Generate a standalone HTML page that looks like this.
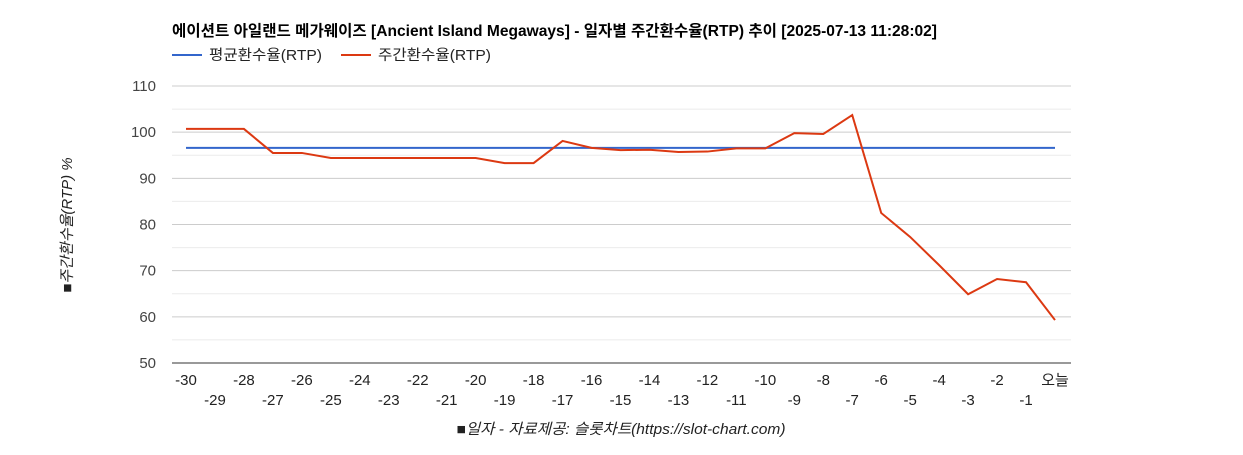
<!DOCTYPE html>
<html><head><meta charset="utf-8">
<style>
body{margin:0;background:#fff;font-family:"Liberation Sans","Noto Sans CJK KR",sans-serif;}
svg text{font-family:"Liberation Sans","Noto Sans CJK KR",sans-serif;}
</style></head>
<body>
<svg width="1243" height="450" xmlns="http://www.w3.org/2000/svg">
<text x="172" y="36" font-size="15.5" font-weight="bold" fill="#000" textLength="765" lengthAdjust="spacingAndGlyphs">에이션트 아일랜드 메가웨이즈 [Ancient Island Megaways] - 일자별 주간환수율(RTP) 추이 [2025-07-13 11:28:02]</text>
<g>
<line x1="172" y1="55" x2="202" y2="55" stroke="#3366cc" stroke-width="2"/>
<text x="209" y="60" font-size="14.5" fill="#222" textLength="113" lengthAdjust="spacingAndGlyphs">평균환수율(RTP)</text>
<line x1="341" y1="55" x2="371" y2="55" stroke="#dc3912" stroke-width="2"/>
<text x="378" y="60" font-size="14.5" fill="#222" textLength="113" lengthAdjust="spacingAndGlyphs">주간환수율(RTP)</text>
</g>
<g id="grid"></g>
<g id="xlabels"></g>
<g id="series"></g>
<text transform="translate(72,225) rotate(-90)" text-anchor="middle" font-size="15" font-style="italic" fill="#222">■주간환수율(RTP) %</text>
<text x="621" y="434" text-anchor="middle" font-size="15" font-style="italic" fill="#222" textLength="329" lengthAdjust="spacingAndGlyphs">■일자 - 자료제공: 슬롯차트(https://slot-chart.com)</text>
</svg>
<script>
const categories=["-30","-29","-28","-27","-26","-25","-24","-23","-22","-21","-20","-19","-18","-17","-16","-15","-14","-13","-12","-11","-10","-9","-8","-7","-6","-5","-4","-3","-2","-1","오늘"];
const weeklyRtp=[100.7,100.7,100.7,95.5,95.5,94.4,94.4,94.4,94.4,94.4,94.4,93.3,93.3,98.1,96.6,96.1,96.2,95.7,95.8,96.5,96.5,99.8,99.6,103.7,82.5,77.3,71.2,64.9,68.2,67.5,59.3];
const avgRtp=96.6;
const yTicks=[50,60,70,80,90,100,110];
const NS="http://www.w3.org/2000/svg";
const plotLeft=172,plotRight=1071,plotTop=86,plotBottom=363,yMin=50,yMax=110;
const xStart=186,xEnd=1055;
function xs(i){return xStart+(xEnd-xStart)*i/(categories.length-1);}
function ys(v){return plotBottom-(v-yMin)/(yMax-yMin)*(plotBottom-plotTop);}
function mk(tag,attrs,parent){const e=document.createElementNS(NS,tag);for(const k in attrs)e.setAttribute(k,attrs[k]);parent.appendChild(e);return e;}
const grid=document.getElementById('grid');
for(let v=yMin;v<=yMax;v+=5){
 const major=yTicks.includes(v);
 const l=mk('line',{x1:plotLeft,x2:plotRight,y1:ys(v),y2:ys(v),stroke:major?(v===yMin?'#333':'#ccc'):'#ebebeb','stroke-width':1},grid);
 
 
}
yTicks.forEach(v=>{
 const t=mk('text',{x:156,y:ys(v)+5,'text-anchor':'end','font-size':15,fill:'#444'},grid);
 t.textContent=v;
 
 
});
const xl=document.getElementById('xlabels');
categories.forEach((c,i)=>{
 const t=mk('text',{x:xs(i),y:i%2===0?385:405,'text-anchor':'middle','font-size':15,fill:'#222'},xl);
 t.textContent=c;
 
 
});
const s=document.getElementById('series');
const avg=mk('line',{x1:xs(0),x2:xs(categories.length-1),y1:ys(avgRtp),y2:ys(avgRtp),stroke:'#3366cc','stroke-width':2},s);


const pl=mk('polyline',{points:weeklyRtp.map((v,i)=>xs(i)+','+ys(v)).join(' '),fill:'none',stroke:'#dc3912','stroke-width':2},s);


</script>
</body></html>
